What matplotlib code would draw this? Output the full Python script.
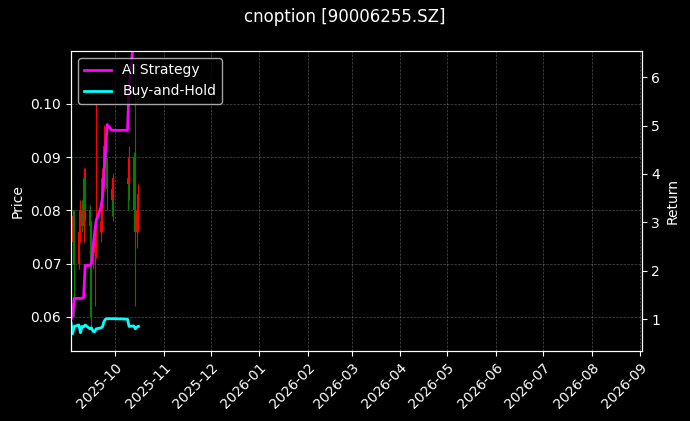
import matplotlib
matplotlib.use("Agg")
import matplotlib.pyplot as plt
import matplotlib.dates as mdates
import pandas as pd

dates = ["2025-09-03","2025-09-04","2025-09-05","2025-09-08","2025-09-09",
         "2025-09-10","2025-09-11","2025-09-12","2025-09-15","2025-09-16","2025-09-17","2025-09-18",
         "2025-09-19","2025-09-22","2025-09-23","2025-09-24","2025-09-25","2025-09-26","2025-09-29",
         "2025-09-30","2025-10-09","2025-10-10","2025-10-13","2025-10-14","2025-10-15","2025-10-16"]
opens  = [0.0900,0.0740,0.0790,0.0700,0.0760,0.0800,0.0770,0.0860,0.0800,0.0770,0.0700,0.0720,
          0.0740,0.0760,0.0780,0.0860,0.0920,0.0880,0.0840,0.0820,0.0860,0.0850,0.0900,0.0800,0.0760,0.0800]
closes = [0.0780,0.0790,0.0700,0.0760,0.0800,0.0770,0.0860,0.0800,0.0770,0.0700,0.0720,0.0740,
          0.0760,0.0780,0.0860,0.0920,0.0880,0.0840,0.0820,0.0860,0.0850,0.0900,0.0800,0.0760,0.0800,0.0830]
highs  = [0.0940,0.0800,0.0800,0.0770,0.0820,0.0820,0.0880,0.0880,0.0810,0.0780,0.0740,0.0760,
          0.1000,0.0800,0.0880,0.0960,0.0940,0.0900,0.0860,0.0870,0.0880,0.0920,0.0910,0.1070,0.0820,0.0850]
lows   = [0.0740,0.0720,0.0600,0.0690,0.0740,0.0760,0.0740,0.0780,0.0600,0.0580,0.0690,0.0620,
          0.0710,0.0740,0.0760,0.0840,0.0860,0.0800,0.0790,0.0780,0.0800,0.0820,0.0780,0.0620,0.0730,0.0760]
strategy = [1.00,1.08,1.43,1.43,1.43,1.43,1.45,2.11,2.11,2.15,2.50,2.77,
            3.04,3.30,3.50,4.00,4.50,5.02,4.90,4.90,4.90,5.80,6.80,7.00,7.20,7.30]
buyhold  = [0.92,0.70,0.85,0.88,0.72,0.85,0.84,0.88,0.80,0.82,0.75,0.74,
            0.80,0.82,0.84,0.95,1.00,1.01,1.01,1.01,1.00,0.85,0.86,0.80,0.84,0.85]

d = pd.to_datetime(dates)
plt.style.use("dark_background")
fig, ax = plt.subplots(figsize=(6.9, 4.21), dpi=100)
fig.subplots_adjust(left=0.103, right=0.930, top=0.879, bottom=0.166)
for x, o, c, h, l in zip(d, opens, closes, highs, lows):
    col = "red" if c >= o else "green"
    ax.vlines(x, l, h, color=col, linewidth=0.8)
    ax.vlines(x, min(o, c), max(o, c), color=col, linewidth=1.5)
ax.set_ylim(0.0536, 0.1099)
ax.set_ylabel("Price")
ax.set_xlim(pd.Timestamp("2025-09-03"), pd.Timestamp("2026-09-02"))
ax.xaxis.set_major_locator(mdates.MonthLocator())
ax.xaxis.set_major_formatter(mdates.DateFormatter("%Y-%m"))
plt.setp(ax.get_xticklabels(), rotation=45, ha="right", rotation_mode="anchor")
ax.grid(True, linestyle="--", linewidth=0.5, alpha=0.3)
ax2 = ax.twinx()
ax2.plot(d, strategy, color="magenta", linewidth=2, label="AI Strategy")
ax2.plot(d, buyhold, color="cyan", linewidth=2, label="Buy-and-Hold")
ax2.set_ylim(0.34, 6.54)
ax2.set_ylabel("Return")
ax2.legend(loc="upper left")
fig.suptitle("cnoption [90006255.SZ]")
fig.savefig("out.png")
